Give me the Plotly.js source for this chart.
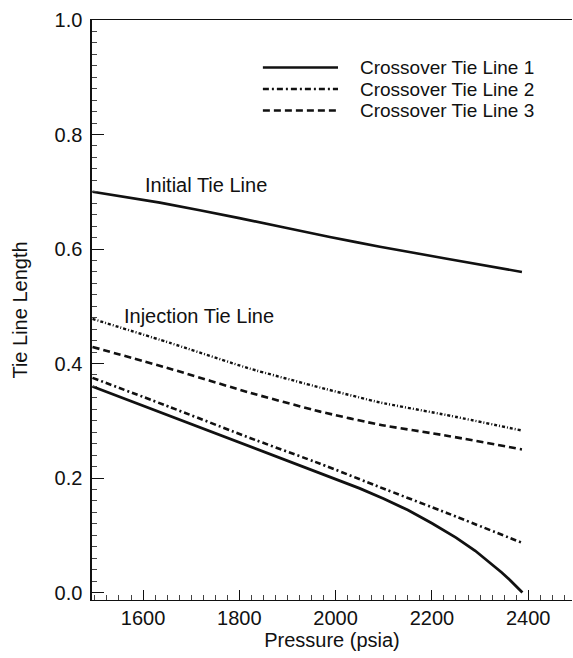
<!DOCTYPE html>
<html>
<head>
<meta charset="utf-8">
<script src="https://cdn.plot.ly/plotly-3.0.1.min.js"></script>
<style>
  html, body { margin: 0; padding: 0; background: #fff; }
  #chart { width: 573px; height: 658px; }
</style>
</head>
<body>
<div id="chart"></div>
<script>
// Tie line length versus pressure (psia)
const initialP   = [1495, 1635, 1800, 1988, 2092, 2231, 2387];
const initialLen = [0.700, 0.681, 0.654, 0.621, 0.604, 0.583, 0.560];

const injectionP   = [1495, 1656, 1822, 1968, 2092, 2231, 2387];
const injectionLen = [0.478, 0.436, 0.391, 0.358, 0.332, 0.310, 0.283];

const cross1P   = [1495, 1700, 1900, 2050, 2100, 2150, 2200, 2250, 2290, 2320, 2345, 2362, 2374, 2382, 2386, 2388];
const cross1Len = [0.360, 0.294, 0.230, 0.182, 0.164, 0.144, 0.121, 0.096, 0.073, 0.053, 0.035, 0.022, 0.012, 0.006, 0.002, 0.0];

const cross2P   = [1495, 1656, 1822, 1968, 2092, 2231, 2387];
const cross2Len = [0.375, 0.324, 0.270, 0.225, 0.184, 0.139, 0.087];

const cross3P   = [1495, 1656, 1822, 1968, 2092, 2231, 2387];
const cross3Len = [0.429, 0.391, 0.349, 0.316, 0.293, 0.274, 0.250];

const keyNames = ['Crossover Tie Line 1', 'Crossover Tie Line 2', 'Crossover Tie Line 3'];
const curveLabels = ['Initial Tie Line', 'Injection Tie Line'];

const FONT = 'Arial, "Liberation Sans", Helvetica, sans-serif';
const INK = '#111';

const solid   = 'solid';
const dashDot = '6px,3px,2px,3px';
const dashed  = '7px,4px';
const dotDash = '3px,2px,1px,2px';

function curve(x, y, dash, width, name, shape) {
  return {
    x: x, y: y, name: name, type: 'scatter', mode: 'lines',
    line: { color: INK, width: width, dash: dash, shape: shape, smoothing: 0.4 },
    showlegend: false, hoverinfo: 'skip'
  };
}

const traces = [
  curve(initialP, initialLen, solid, 2.6, curveLabels[0], 'spline'),
  curve(injectionP, injectionLen, dotDash, 2.4, curveLabels[1], 'spline'),
  curve(cross3P, cross3Len, dashed, 2.6, keyNames[2], 'spline'),
  curve(cross2P, cross2Len, dashDot, 2.6, keyNames[1], 'spline'),
  curve(cross1P, cross1Len, solid, 2.8, keyNames[0], 'linear')
];

// key: short line samples with their names beside them
const keyStyles = [solid, dashDot, dashed];
const keyRows = [0.918, 0.881, 0.844];
const shapes = keyNames.map((n, i) => ({
  type: 'line', xref: 'paper', yref: 'paper',
  x0: 0.356, x1: 0.5125, y0: keyRows[i], y1: keyRows[i],
  line: { color: INK, width: 2.4, dash: keyStyles[i] }
}));
const annotations = keyNames.map((n, i) => ({
  xref: 'paper', yref: 'paper', x: 0.554, y: keyRows[i],
  xanchor: 'left', yanchor: 'middle', text: n, showarrow: false,
  font: { family: FONT, size: 19, color: INK }
}));
annotations.push(
  { x: 1600, y: 0.712, xref: 'x', yref: 'y', xanchor: 'left', yanchor: 'middle',
    text: curveLabels[0], showarrow: false, font: { family: FONT, size: 20, color: INK } },
  { x: 1556, y: 0.483, xref: 'x', yref: 'y', xanchor: 'left', yanchor: 'middle',
    text: curveLabels[1], showarrow: false, font: { family: FONT, size: 20, color: INK } }
);

const layout = {
  width: 573, height: 658,
  margin: { l: 92, r: 1, t: 20, b: 58 },
  paper_bgcolor: '#fff', plot_bgcolor: '#fff',
  font: { family: FONT, size: 20, color: INK },
  showlegend: false,
  xaxis: {
    range: [1494, 2491], tickvals: [1600, 1800, 2000, 2200, 2400],
    ticks: 'inside', ticklen: 10, tickwidth: 1, tickcolor: INK,
    minor: { ticks: 'inside', ticklen: 5, dtick: 25, tick0: 1500, tickcolor: '#444', tickwidth: 1 },
    showline: true, linecolor: INK, linewidth: 1.2, mirror: true,
    showgrid: false, zeroline: false, ticklabelstandoff: 0,
    title: { text: 'Pressure (psia)', font: { family: FONT, size: 20, color: INK }, standoff: 0 },
    automargin: false
  },
  yaxis: {
    range: [-0.013, 1.0], tickvals: [0, 0.2, 0.4, 0.6, 0.8, 1.0],
    ticktext: ['0.0', '0.2', '0.4', '0.6', '0.8', '1.0'],
    ticks: 'inside', ticklen: 12, tickwidth: 1, tickcolor: INK,
    minor: { ticks: 'inside', ticklen: 5, dtick: 0.02, tick0: 0, tickcolor: '#444', tickwidth: 1 },
    showline: true, linecolor: INK, linewidth: 1.6, mirror: false,
    showgrid: false, zeroline: false, ticklabelstandoff: 4,
    title: { text: 'Tie Line Length', font: { family: FONT, size: 20, color: INK }, standoff: 21 },
    automargin: false
  },
  shapes: shapes,
  annotations: annotations
};

Plotly.newPlot('chart', traces, layout, { staticPlot: true, displayModeBar: false });
</script>
</body>
</html>
